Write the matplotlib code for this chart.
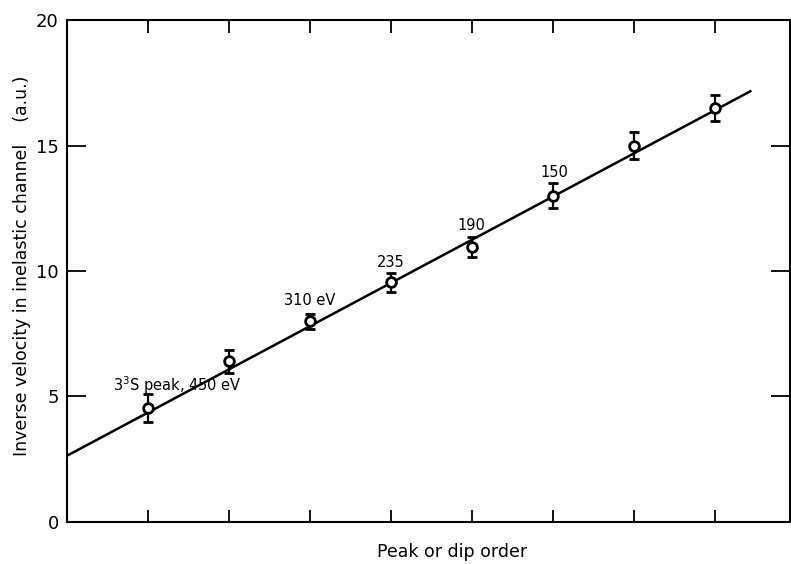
import matplotlib.pyplot as plt

# data
order = [1, 2, 3, 4, 5, 6, 7, 8]
inv_vel = [4.55, 6.4, 8.0, 9.55, 10.97, 13.0, 15.0, 16.5]
err = [0.55, 0.45, 0.3, 0.38, 0.4, 0.5, 0.52, 0.53]

# fitted straight line
fit_x = [0.0, 8.44]
fit_y = [2.64, 17.16]

labels = ['3$^3$S peak, 450 eV', '310 eV', '235', '190', '150']
label_x = [1.36, 3.0, 4.0, 5.0, 6.02]
label_y = [5.46, 8.84, 10.32, 11.83, 13.94]

plt.rcParams['font.family'] = 'DejaVu Sans'

fig = plt.figure(figsize=(7.91, 5.64), dpi=100)
ax = fig.add_axes([0.0847, 0.0745, 0.914, 0.89])

ax.plot(fit_x, fit_y, color='black', lw=1.8)
ax.errorbar(order, inv_vel, yerr=err, fmt='o', ms=7, mfc='white', mec='black',
            mew=2, ecolor='black', elinewidth=1.6, capsize=3.5, capthick=1.6)

for t, x, y in zip(labels, label_x, label_y):
    ax.text(x, y, t, ha='center', va='center', fontsize=10.5)

ax.set_xlim(0, 8.93)
ax.set_ylim(0, 20)
ax.set_xticks(order)
ax.set_xticklabels([])
ax.set_yticks([0, 5, 10, 15, 20])
ax.tick_params(axis='x', direction='in', length=9, width=1.3, top=True)
ax.tick_params(axis='y', direction='in', length=14, width=1.3, right=True,
               labelsize=13, pad=6)
for s in ax.spines.values():
    s.set_linewidth(1.5)

ax.set_ylabel('Inverse velocity in inelastic channel    (a.u.)', fontsize=12.5,
              va='center')
ax.yaxis.set_label_coords(-0.062, 0.51)
ax.set_xlabel('Peak or dip order', fontsize=12.5, va='center')
ax.xaxis.set_label_coords(0.533, -0.06)

fig.savefig('out.png', dpi=100)
